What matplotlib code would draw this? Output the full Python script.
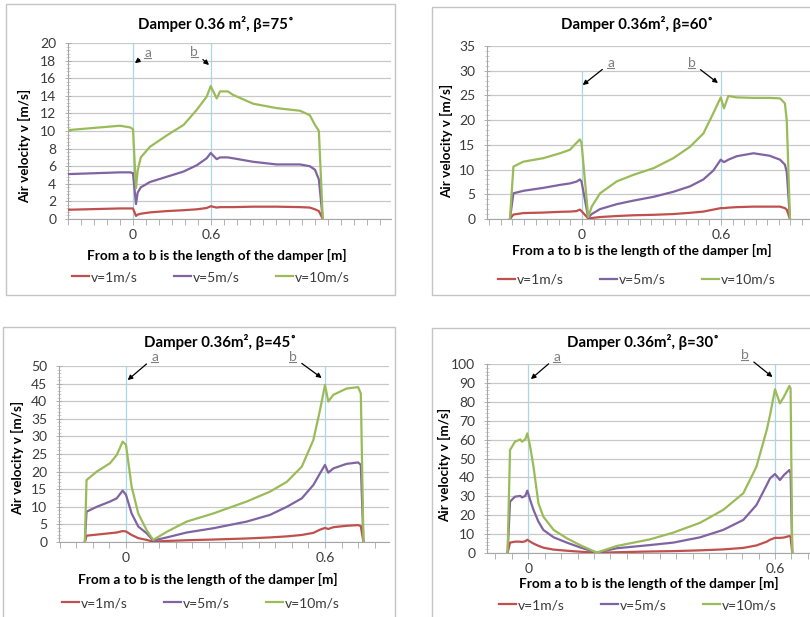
import numpy as np
import matplotlib
matplotlib.use("Agg")
import matplotlib.pyplot as plt
from matplotlib.patches import Rectangle
from matplotlib.lines import Line2D

plt.rcParams['font.family'] = ['Lato', 'DejaVu Sans']

W, H = 810, 617

# ---------------- data ----------------
series_labels = ["v=1m/s", "v=5m/s", "v=10m/s"]
titles = ["Damper 0.36 m², β=75˚", "Damper 0.36m², β=60˚",
          "Damper 0.36m², β=45˚", "Damper 0.36m², β=30˚"]
xlabel_text = "From a to b is the length of the damper [m]"
ylabel_text = "Air velocity v [m/s]"
xtick_labels = ["0", "0.6"]
xtick_values = [0.0, 0.6]

# beta = 75
x75 = [-0.5, -0.1, -0.02, 0.0, 0.023, 0.036, 0.06, 0.13, 0.26, 0.39, 0.49, 0.567,
       0.598, 0.644, 0.67, 0.73, 0.77, 0.925, 1.105, 1.285, 1.36, 1.40, 1.43, 1.46]
v10_75 = [10.1, 10.6, 10.4, 10.2, 3.5, 5.5, 7.0, 8.2, 9.5, 10.7, 12.4, 13.9,
          15.1, 13.7, 14.5, 14.5, 14.1, 13.1, 12.6, 12.3, 11.8, 10.7, 10.0, 0.0]
v5_75 = [5.1, 5.3, 5.3, 5.2, 1.7, 3.0, 3.6, 4.2, 4.8, 5.4, 6.1, 6.9,
         7.5, 6.8, 7.0, 7.0, 6.9, 6.5, 6.2, 6.2, 6.0, 5.6, 4.5, 0.0]
v1_75 = [1.05, 1.2, 1.2, 1.2, 0.35, 0.5, 0.6, 0.75, 0.9, 1.0, 1.1, 1.25,
         1.45, 1.3, 1.35, 1.35, 1.35, 1.4, 1.4, 1.35, 1.3, 1.1, 0.9, 0.0]

# beta = 60
x60 = [-0.311, -0.296, -0.253, -0.167, -0.095, -0.052, -0.024, -0.009, -0.002, 0.027,
       0.042, 0.078, 0.15, 0.22, 0.31, 0.394, 0.466, 0.524, 0.567, 0.599, 0.613,
       0.632, 0.668, 0.74, 0.81, 0.855, 0.876, 0.884, 0.898]
v10_60 = [0, 10.6, 11.6, 12.3, 13.3, 14.0, 15.4, 16.1, 15.4, 0.4, 2.5, 5.2, 7.6, 8.9,
          10.3, 12.3, 14.6, 17.3, 21.4, 24.6, 22.4, 24.9, 24.6, 24.5, 24.5, 24.4,
          23.4, 20.0, 0]
v5_60 = [0, 5.2, 5.7, 6.3, 6.9, 7.2, 7.55, 8.0, 7.6, 0.3, 1.0, 2.0, 3.0, 3.7, 4.5,
         5.5, 6.6, 8.0, 9.8, 12.0, 11.5, 12.0, 12.7, 13.3, 12.8, 12.0, 11.0, 9.5, 0]
v1_60 = [0, 0.9, 1.2, 1.3, 1.45, 1.5, 1.6, 1.9, 1.6, 0.1, 0.2, 0.4, 0.6, 0.75, 0.85,
         1.0, 1.25, 1.5, 1.9, 2.2, 2.2, 2.3, 2.4, 2.5, 2.5, 2.5, 2.2, 1.9, 0]

# beta = 45
x45 = [-0.124, -0.119, -0.088, -0.048, -0.028, -0.01, 0.0, 0.017, 0.037, 0.062, 0.082,
       0.123, 0.183, 0.263, 0.364, 0.434, 0.485, 0.53, 0.565, 0.585, 0.6, 0.61, 0.625,
       0.665, 0.70, 0.708, 0.716]
v10_45 = [0, 17.6, 20.0, 22.4, 24.7, 28.5, 27.6, 15.7, 8.1, 3.4, 0.6, 2.9, 5.8, 8.1,
          11.5, 14.3, 17.1, 21.4, 29.0, 37.5, 44.6, 39.9, 41.8, 43.6, 44.0, 42.2, 0]
v5_45 = [0, 8.6, 10.0, 11.5, 12.4, 14.6, 13.4, 8.1, 4.4, 2.5, 0.4, 1.3, 2.7, 3.9, 5.8,
         7.7, 10.0, 12.4, 16.2, 19.5, 21.9, 19.7, 20.9, 22.2, 22.6, 21.9, 0]
v1_45 = [0, 1.8, 2.1, 2.5, 2.7, 3.1, 3.0, 2.0, 1.1, 0.6, 0.1, 0.3, 0.5, 0.7, 1.0, 1.3,
         1.6, 2.0, 2.6, 3.5, 4.0, 3.7, 4.2, 4.6, 4.8, 4.5, 0]

# beta = 30
x30 = [-0.050, -0.044, -0.032, -0.019, -0.015, -0.007, -0.002, 0.005, 0.013, 0.025,
       0.037, 0.062, 0.094, 0.126, 0.167, 0.215, 0.296, 0.353, 0.418, 0.474, 0.523,
       0.555, 0.58, 0.588, 0.6, 0.612, 0.622, 0.635, 0.638, 0.642]
v10_30 = [0, 54.5, 58.9, 60.1, 58.9, 60.1, 63.3, 56.2, 45.7, 26.3, 19.2, 12.2, 7.8, 4.2,
          0.2, 3.7, 7.2, 10.8, 16.0, 22.8, 31.6, 45.7, 65.1, 73.0, 86.6, 79.2, 82.7,
          88.4, 87.0, 0]
v5_30 = [0, 27.2, 29.8, 30.2, 29.4, 30.2, 33.0, 28.0, 22.8, 16.6, 12.2, 8.3, 5.5, 3.0,
         0.2, 2.5, 4.2, 5.5, 8.3, 12.2, 17.5, 25.4, 36.0, 39.5, 41.8, 38.6, 41.3, 43.9,
         42.2, 0]
v1_30 = [0, 5.5, 6.0, 6.0, 5.8, 6.2, 7.0, 6.0, 5.0, 3.8, 2.8, 1.8, 1.2, 0.7, 0.1, 0.4,
         0.8, 1.0, 1.4, 1.9, 2.7, 4.0, 6.0, 7.0, 8.0, 8.0, 8.2, 9.0, 8.5, 0]

colors = ["#C0504D", "#8064A2", "#9BBB59"]

panels = [
    dict(x=x75, ys=[v1_75, v5_75, v10_75], title=titles[0],
         box=(68, 43, 391, 219), xlim=(-0.5, 1.985), ylim=(0, 20), ystep=2,
         xminor=0.1, vline_top=20,
         frame=(6, 4, 395, 295), title_pos=(216, 24), xlab_pos=(217, 255),
         ylab_pos=(25, 146), leg_pos=(211, 277),
         ann=[("a", (0.115, 18.9), (0.015, 17.7)), ("b", (0.47, 19.0), (0.585, 17.5))]),
    dict(x=x60, ys=[v1_60, v5_60, v10_60], title=titles[1],
         box=(487, 46, 812, 219), xlim=(-0.41, 0.993), ylim=(0, 35), ystep=5,
         xminor=0.05, vline_top=30,
         frame=(432, 7, 815, 295), title_pos=(637, 24), xlab_pos=(642, 250),
         ylab_pos=(447, 141), leg_pos=(637, 280),
         ann=[("a", (0.124, 31.6), (0.003, 27.1)), ("b", (0.473, 31.6), (0.587, 27.5))]),
    dict(x=x45, ys=[v1_45, v5_45, v10_45], title=titles[2],
         box=(59, 366, 389, 542), xlim=(-0.202, 0.793), ylim=(0, 50), ystep=5,
         xminor=0.05, vline_top=50,
         frame=(3, 327, 395, 620), title_pos=(220, 342), xlab_pos=(208, 579),
         ylab_pos=(18, 458), leg_pos=(201, 603),
         ann=[("a", (0.087, 52.6), (0.005, 46.0)), ("b", (0.503, 52.6), (0.59, 46.6))]),
    dict(x=x30, ys=[v1_30, v5_30, v10_30], title=titles[3],
         box=(487, 364, 812, 553), xlim=(-0.1, 0.690), ylim=(0, 100), ystep=10,
         xminor=0.04, vline_top=100,
         frame=(432, 328, 815, 620), title_pos=(643, 342), xlab_pos=(649, 583),
         ylab_pos=(445, 465), leg_pos=(638, 605),
         ann=[("a", (0.07, 103.9), (0.0066, 92.0)), ("b", (0.527, 104.8), (0.594, 93.1))]),
]

fig = plt.figure(figsize=(W / 100, H / 100), dpi=100)

def fx(px):
    return px / W

def fy(py):
    return 1 - py / H

for p in panels:
    fl, ft, fr, fb = p["frame"]
    fig.patches.append(Rectangle((fx(fl), fy(fb)), fx(fr) - fx(fl), fy(ft) - fy(fb),
                                 transform=fig.transFigure, fill=False,
                                 edgecolor="#C4C4C4", lw=1.0, zorder=0))
    l, t, r, b = p["box"]
    ax = fig.add_axes([fx(l), fy(b), fx(r) - fx(l), fy(t) - fy(b)])
    ax.set_xlim(*p["xlim"])
    ax.set_ylim(*p["ylim"])
    ax.set_facecolor("none")
    for s in ["top", "right"]:
        ax.spines[s].set_visible(False)
    for s in ["left", "bottom"]:
        ax.spines[s].set_color("#A6A6A6")
        ax.spines[s].set_linewidth(0.8)
    ax.set_yticks(np.arange(0, p["ylim"][1] + 0.01, p["ystep"]))
    ax.set_yticks(np.arange(0, p["ylim"][1] + 0.01, p["ystep"] / 5), minor=True)
    ax.grid(axis="y", which="major", color="#C8C8C8", lw=0.9)
    ax.set_axisbelow(True)
    ax.tick_params(axis="y", which="major", direction="inout", length=5, width=0.6,
                   color="#A6A6A6", labelsize=10, labelcolor="#3A3A3A", pad=6)
    ax.tick_params(axis="y", which="minor", direction="inout", length=3, width=0.5,
                   color="#BFBFBF")
    step = p["xminor"]
    k0 = int(np.ceil(p["xlim"][0] / step - 1e-9))
    k1 = int(np.floor(p["xlim"][1] / step + 1e-9))
    ax.set_xticks(xtick_values)
    ax.set_xticklabels(xtick_labels)
    ax.set_xticks([k * step for k in range(k0, k1 + 1)], minor=True)
    ax.tick_params(axis="x", which="both", direction="out", length=4, width=0.6,
                   color="#A6A6A6", labelsize=10, labelcolor="#3A3A3A", pad=3)
    # vertical markers a, b
    for xv in xtick_values:
        ax.plot([xv, xv], [0, p["vline_top"]], color="#A9D7E6", lw=0.9, zorder=1)
    handles = []
    for ys, c, lab in zip(p["ys"], colors, series_labels):
        h, = ax.plot(p["x"], ys, color=c, lw=1.6, label=lab, zorder=3,
                     solid_joinstyle="round")
        handles.append(h)
    for txt, xyt, xy in p["ann"]:
        ax.annotate(txt, xy=xy, xytext=xyt,
                    textcoords="data", ha="center", va="center", fontsize=10,
                    color="#7F7F7F", annotation_clip=False,
                    arrowprops=dict(arrowstyle="-|>", color="black", lw=0.9,
                                    mutation_scale=7, shrinkA=2, shrinkB=0))
        px, py = ax.transData.transform(xyt)
        fig.add_artist(Line2D([px - 3.5, px + 3.5], [py - 5.5, py - 5.5],
                              transform=None, color="#7F7F7F", lw=0.8))
    fig.text(fx(p["title_pos"][0]), fy(p["title_pos"][1]), p["title"],
             ha="center", va="center", fontsize=10.8, fontweight="bold")
    fig.text(fx(p["xlab_pos"][0]), fy(p["xlab_pos"][1]), xlabel_text,
             ha="center", va="center", fontsize=9.8, fontweight="bold")
    fig.text(fx(p["ylab_pos"][0]), fy(p["ylab_pos"][1]), ylabel_text,
             ha="center", va="center", fontsize=9.6, fontweight="bold", rotation=90)
    ax.legend(handles=handles, loc="center",
              bbox_to_anchor=(fx(p["leg_pos"][0]), fy(p["leg_pos"][1])),
              bbox_transform=fig.transFigure, ncol=3, frameon=False,
              handlelength=1.2, handletextpad=0.15, columnspacing=2.6, fontsize=10,
              labelcolor="#3A3A3A")

fig.savefig("out.png", dpi=100)
